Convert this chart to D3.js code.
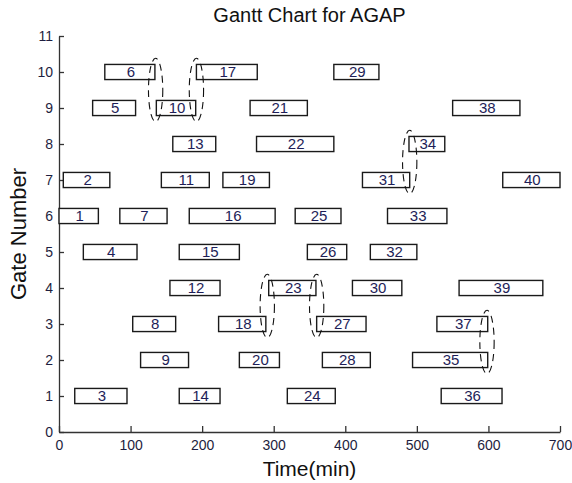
<!DOCTYPE html>
<html>
<head>
<meta charset="utf-8">
<script src="https://cdn.jsdelivr.net/npm/d3@7"></script>
<style>
  body { margin: 0; background: #fff; }
  text { font-family: "Liberation Sans", Arial, sans-serif; }
</style>
</head>
<body>
<svg id="gantt" width="572" height="483"></svg>
<script>
// task data (times in minutes)
const taskIds = [1, 2, 3, 4, 5, 6, 7, 8, 9, 10,
  11, 12, 13, 14, 15, 16, 17, 18, 19, 20,
  21, 22, 23, 24, 25, 26, 27, 28, 29, 30,
  31, 32, 33, 34, 35, 36, 37, 38, 39, 40];
const taskGates = [6, 7, 1, 5, 9, 10, 6, 3, 2, 9,
  7, 4, 8, 1, 5, 6, 10, 3, 7, 2,
  9, 8, 4, 1, 6, 5, 3, 2, 10, 4,
  7, 5, 6, 8, 2, 1, 3, 9, 4, 7];
const taskStarts = [0, 6, 22, 34, 47, 64, 85, 103, 114, 136,
  143, 155, 159, 168, 168, 182, 192, 223, 229, 252,
  267, 276, 293, 319, 330, 347, 360, 368, 384, 410,
  424, 435, 459, 489, 494, 534, 528, 550, 559, 620];
const taskEnds = [55, 71, 95, 109, 107, 134, 151, 163, 181, 191,
  210, 225, 219, 225, 252, 302, 277, 289, 294, 308,
  347, 384, 359, 386, 394, 402, 429, 435, 447, 479,
  490, 500, 542, 539, 599, 619, 599, 644, 676, 700];

// dashed ellipses marking conflicts (center time, lower gate)
const markTimes = [135, 192, 490, 291, 360, 598];
const markGates = [9, 9, 7, 3, 3, 2];

const xTicks = [0, 100, 200, 300, 400, 500, 600, 700];
const yTicks = [0, 1, 2, 3, 4, 5, 6, 7, 8, 9, 10, 11];

const width = 572, height = 483;
const margin = { top: 36, right: 12, bottom: 51, left: 59 };

const svg = d3.select("#gantt");

const x = d3.scaleLinear().domain([0, 700]).range([margin.left, width - margin.right]);
const y = d3.scaleLinear().domain([0, 11]).range([height - margin.bottom, margin.top]);

// axes (MATLAB style, ticks pointing in)
const xAxis = svg.append("g")
  .attr("transform", `translate(0,${height - margin.bottom})`)
  .call(d3.axisBottom(x).tickValues(xTicks).tickSize(-6).tickSizeOuter(0).tickPadding(8));
const yAxis = svg.append("g")
  .attr("transform", `translate(${margin.left},0)`)
  .call(d3.axisLeft(y).tickValues(yTicks).tickSize(-5).tickSizeOuter(0).tickPadding(6));

[xAxis, yAxis].forEach(a => {
  a.select(".domain").attr("stroke", "#333").attr("stroke-width", 1.3);
  a.selectAll(".tick line").attr("stroke", "#333").attr("stroke-width", 1.3);
  a.selectAll(".tick text")
    .attr("fill", "#1e1e40")
    .style("font-size", "14px")
    .style("font-family", "'Liberation Sans', Arial, sans-serif");
});

// bars
const tasks = taskIds.map((id, i) => ({
  id, gate: taskGates[i], start: taskStarts[i], end: taskEnds[i]
}));
const barH = y(0) - y(0.42);

const bars = svg.append("g").selectAll("g")
  .data(tasks)
  .join("g");

bars.append("rect")
  .attr("x", d => x(d.start))
  .attr("y", d => y(d.gate) - barH / 2)
  .attr("width", d => x(d.end) - x(d.start))
  .attr("height", barH)
  .attr("fill", "#fff")
  .attr("stroke", "#1a1a1a")
  .attr("stroke-width", 1.4);

bars.append("text")
  .attr("x", d => x((d.start + d.end) / 2) + 1)
  .attr("y", d => y(d.gate))
  .attr("dy", "0.36em")
  .attr("text-anchor", "middle")
  .attr("fill", "#1e1e58")
  .style("font-size", "15px")
  .text(d => d.id);

// dashed ellipses
const rx = x(10) - x(0);
const ry = y(0) - y(0.88);
svg.append("g").selectAll("ellipse")
  .data(markTimes.map((t, i) => ({ t, g: markGates[i] })))
  .join("ellipse")
  .attr("cx", d => x(d.t))
  .attr("cy", d => y(d.g + 0.5))
  .attr("rx", rx)
  .attr("ry", ry)
  .attr("fill", "none")
  .attr("stroke", "#111")
  .attr("stroke-width", 1.1)
  .attr("stroke-dasharray", "7,5");

// titles
svg.append("text")
  .attr("x", (margin.left + width - margin.right) / 2)
  .attr("y", 22)
  .attr("text-anchor", "middle")
  .attr("fill", "#111")
  .style("font-size", "20px")
  .text("Gantt Chart for AGAP");

svg.append("text")
  .attr("x", (margin.left + width - margin.right) / 2)
  .attr("y", 476)
  .attr("text-anchor", "middle")
  .attr("fill", "#111")
  .style("font-size", "21px")
  .text("Time(min)");

svg.append("text")
  .attr("transform", `translate(26,${(margin.top + height - margin.bottom) / 2}) rotate(-90)`)
  .attr("text-anchor", "middle")
  .attr("fill", "#111")
  .style("font-size", "22px")
  .text("Gate Number");
</script>
</body>
</html>
